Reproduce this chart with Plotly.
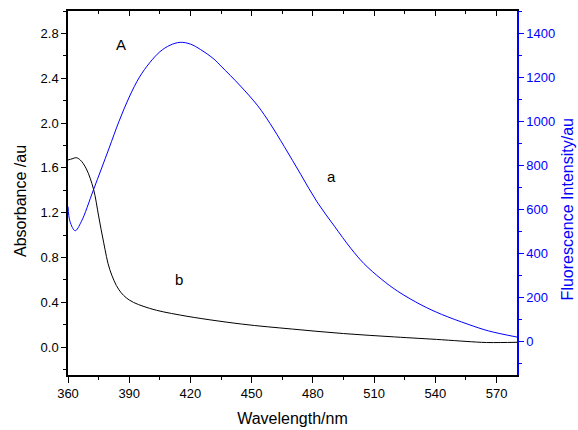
import plotly.graph_objects as go

# Absorbance (curve b, left axis)
wl_abs = [360, 362, 364, 366, 369, 372.5, 375, 377.5, 380.5, 385, 390, 400, 415, 445, 470, 495, 520, 543, 555, 565, 572, 580]
absorb = [1.67, 1.68, 1.69, 1.67, 1.59, 1.41, 1.17, 0.93, 0.69, 0.51, 0.42, 0.345, 0.285, 0.205, 0.16, 0.12, 0.09, 0.065, 0.05, 0.04, 0.04, 0.042]

# Fluorescence (curve a, right axis)
wl_fl = [360, 361, 363.5, 366.5, 372.5, 380, 385, 390, 395, 400, 405, 410, 415, 420, 425, 431.5, 435,
         444.5, 453, 459, 466, 474, 482, 490.5, 498.5, 505, 513.5, 521.5, 533, 543, 556, 566, 580]
fluor = [613, 545, 504, 545, 690, 875, 1000, 1110, 1200, 1265, 1315, 1345, 1358, 1350, 1325, 1282, 1250,
         1160, 1070, 990, 885, 760, 635, 525, 425, 355, 285, 230, 168, 125, 80, 50, 22]

x_ticks = [360, 390, 420, 450, 480, 510, 540, 570]
y_ticks = [0.0, 0.4, 0.8, 1.2, 1.6, 2.0, 2.4, 2.8]
y2_ticks = [0, 200, 400, 600, 800, 1000, 1200, 1400]

labels = [("A", 386, 2.70), ("a", 489, 1.52), ("b", 414.5, 0.60)]

FONT = "Liberation Sans, Arial, sans-serif"
BLUE = "#0000ff"

fig = go.Figure()
fig.add_trace(go.Scatter(x=wl_abs, y=absorb, mode="lines", line=dict(color="black", width=1, shape="spline"),
                         showlegend=False, yaxis="y"))
fig.add_trace(go.Scatter(x=wl_fl, y=fluor, mode="lines", line=dict(color=BLUE, width=1, shape="spline"),
                         showlegend=False, yaxis="y2"))

for t, xv, yv in labels:
    fig.add_annotation(x=xv, y=yv, xref="x", yref="y", text=t, showarrow=False,
                       font=dict(family=FONT, size=15, color="black"))

# axis titles as rotated annotations (positioned like the original)
fig.add_annotation(x=0, y=0.478, xref="paper", yref="paper", xshift=-48, text="Absorbance /au",
                   textangle=-90, showarrow=False, xanchor="center", yanchor="middle",
                   font=dict(family=FONT, size=16, color="black"))
fig.add_annotation(x=1, y=0.455, xref="paper", yref="paper", xshift=50, text="Fluorescence Intensity/au",
                   textangle=-90, showarrow=False, xanchor="center", yanchor="middle",
                   font=dict(family=FONT, size=16, color=BLUE))

fig.update_layout(
    width=578, height=430,
    margin=dict(l=68, r=61, t=11, b=55),
    paper_bgcolor="white", plot_bgcolor="white",
    font=dict(family=FONT, color="black"),
    xaxis=dict(range=[360, 580], tickvals=x_ticks, ticktext=[str(v) for v in x_ticks],
               showline=True, linecolor="black", linewidth=1.5, mirror=True, automargin=False,
               ticks="outside", ticklen=6, tickwidth=1, tickcolor="black",
               minor=dict(dtick=15, tick0=360, ticks="outside", ticklen=3, tickcolor="black"),
               showgrid=False, zeroline=False,
               tickfont=dict(size=13, family=FONT),
               title=dict(text="Wavelength/nm", font=dict(size=16, family=FONT), standoff=12)),
    xaxis2=dict(overlaying="x", side="top", matches="x", showticklabels=False, automargin=False,
                ticks="inside", ticklen=5, tickcolor="black", tickvals=x_ticks,
                minor=dict(dtick=15, tick0=360, ticks="inside", ticklen=3, tickcolor="black"),
                showgrid=False, zeroline=False, showline=False),
    yaxis=dict(range=[-0.25, 3.0], tickvals=y_ticks, ticktext=[f"{v:.1f}" for v in y_ticks],
               showline=True, linecolor="black", linewidth=1.5, automargin=False,
               ticks="outside", ticklen=5, tickcolor="black",
               minor=dict(dtick=0.2, tick0=0, ticks="outside", ticklen=3, tickcolor="black"),
               showgrid=False, zeroline=False,
               tickfont=dict(size=13, family=FONT)),
    yaxis2=dict(range=[-150, 1500], overlaying="y", side="right", tickvals=y2_ticks,
                showline=True, linecolor=BLUE, linewidth=1.5, automargin=False,
                ticks="outside", ticklen=5, tickcolor=BLUE,
                minor=dict(dtick=100, tick0=0, ticks="outside", ticklen=3, tickcolor=BLUE),
                showgrid=False, zeroline=False,
                tickfont=dict(size=13, family=FONT, color=BLUE)),
)
# invisible trace so the top axis is drawn
fig.add_trace(go.Scatter(x=[360, 580], y=[None, None], xaxis="x2", showlegend=False, hoverinfo="skip"))

fig.write_html("out.html")
